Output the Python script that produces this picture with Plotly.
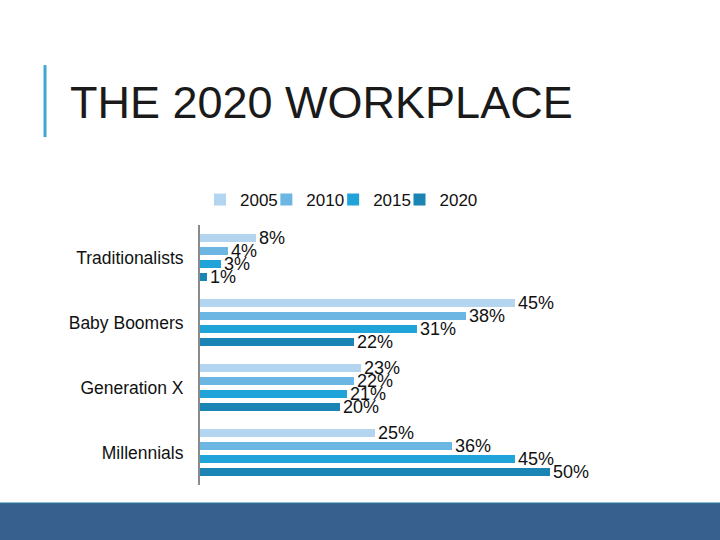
import plotly.graph_objects as go

categories = ["Traditionalists", "Baby Boomers", "Generation X", "Millennials"]
years = ["2005", "2010", "2015", "2020"]
values_2005 = [8, 45, 23, 25]
values_2010 = [4, 38, 22, 36]
values_2015 = [3, 31, 21, 45]
values_2020 = [1, 22, 20, 50]
series = [values_2005, values_2010, values_2015, values_2020]
colors = ["#b4d5ef", "#6cb6e4", "#1fa3d9", "#1a84b4"]

legend_ids = ["legend", "legend2", "legend3", "legend4"]
legend_x = [0.0, 0.158, 0.317, 0.475]

fig = go.Figure()
for name, vals, col, lid in zip(years, series, colors, legend_ids):
    fig.add_trace(go.Bar(
        y=categories, x=vals, name=name, orientation="h", legend=lid,
        marker=dict(color=col, line=dict(width=0)),
        texttemplate="%{x}%", textposition="outside",
        textfont=dict(size=18, color="#111111", family="Liberation Sans, Arial"),
        constraintext="none", cliponaxis=False,
    ))

legend_style = dict(orientation="h", xanchor="left", y=1.096, yanchor="middle",
                    font=dict(size=17, color="#111111"), bgcolor="rgba(0,0,0,0)",
                    itemwidth=30)
legends = {lid: dict(x=lx, **legend_style) for lid, lx in zip(legend_ids, legend_x)}

fig.update_layout(
    width=720, height=540,
    margin=dict(l=200, r=100, t=225, b=55),
    paper_bgcolor="white", plot_bgcolor="white",
    barmode="group", bargap=0.2, bargroupgap=0.38,
    font=dict(family="Liberation Sans, Arial", color="#111111"),
    showlegend=True,
    xaxis=dict(visible=False, range=[0, 60], fixedrange=True),
    yaxis=dict(autorange="reversed", showline=True, linecolor="#8a8a8a", linewidth=2,
               ticks="", showgrid=False, zeroline=False, fixedrange=True,
               tickfont=dict(size=17.5, color="#111111"), ticklabelstandoff=11),
    annotations=[dict(text="THE 2020 WORKPLACE", xref="paper", yref="paper",
                      x=-0.314, y=1.473, xanchor="left", yanchor="middle",
                      showarrow=False, font=dict(size=45, color="#1a1a1a"))],
    shapes=[
        dict(type="line", xref="paper", yref="paper", x0=-0.369, x1=-0.369,
             y0=1.338, y1=1.615, line=dict(color="#3fa9cc", width=3)),
        dict(type="rect", xref="paper", yref="paper", x0=-0.5, x1=1.3,
             y0=-0.0692, y1=-0.35, fillcolor="#37608f", line=dict(color="#2f7b9c", width=1)),
    ],
    **legends,
)

fig.write_html("out.html", config={"displayModeBar": False},
               post_script="document.body.style.margin='0';document.body.style.overflow='hidden';")
